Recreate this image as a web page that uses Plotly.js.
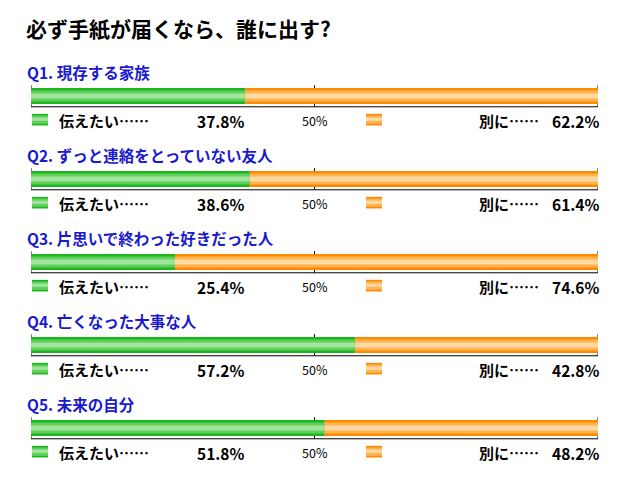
<!DOCTYPE html>
<html>
<head>
<meta charset="utf-8">
<script src="https://cdn.plot.ly/plotly-3.0.1.min.js"></script>
<style>
  html, body { margin: 0; padding: 0; background: #fff; }
  #chart { width: 626px; height: 483px; }
</style>
</head>
<body>
<div id="chart"></div>
<script>
// 質問と回答の割合
var questions = ['Q1. 現存する家族', 'Q2. ずっと連絡をとっていない友人', 'Q3. 片思いで終わった好きだった人',
                 'Q4. 亡くなった大事な人', 'Q5. 未来の自分'];
var tsutaetai = [37.8, 38.6, 25.4, 57.2, 51.8];
var betsuni = [62.2, 61.4, 74.6, 42.8, 48.2];
var idx = [0, 1, 2, 3, 4];

var W = 626, H = 483;
var FONT = '"Noto Sans CJK JP", "Noto Sans", sans-serif';
function px(x) { return x / W; }

var GREEN = ['#1fb51f', '#5fd05b', '#a2e49c'];
var ORANGE = ['#ff8a00', '#ffb450', '#ffd9a4'];

// 伝えたい = 緑, 別に = オレンジ (光沢っぽく3層で重ねる)
function layer(vals, base, color, width) {
    return {
        type: 'bar', orientation: 'h', y: idx, x: vals, base: base,
        width: width, marker: {color: color, line: {width: 0}},
        hoverinfo: 'skip', showlegend: false
    };
}
var data = [
    layer(tsutaetai, 0, GREEN[0], 0.195),
    layer(tsutaetai, 0, GREEN[1], 0.135),
    layer(tsutaetai, 0, GREEN[2], 0.06),
    layer(betsuni, tsutaetai, ORANGE[0], 0.195),
    layer(betsuni, tsutaetai, ORANGE[1], 0.135),
    layer(betsuni, tsutaetai, ORANGE[2], 0.06)
];

var shapes = [], annotations = [];
idx.forEach(function (i) {
    // 下の軸線と目盛り
    shapes.push({type: 'line', xref: 'x', yref: 'y', x0: 0, x1: 100, y0: i + 0.13, y1: i + 0.13,
                 line: {color: '#000', width: 1}, layer: 'below'});
    [0, 50, 100].forEach(function (t) {
        shapes.push({type: 'line', xref: 'x', yref: 'y', x0: t, x1: t, y0: i - 0.13, y1: i + 0.13,
                     line: {color: '#000', width: 1}, layer: 'below'});
    });
    // 凡例の四角
    [[32, 48, GREEN], [366, 382, ORANGE]].forEach(function (s) {
        var c = s[2];
        shapes.push({type: 'rect', xref: 'paper', yref: 'y', x0: px(s[0]), x1: px(s[1]),
                     y0: i + 0.215, y1: i + 0.355, fillcolor: c[0], line: {width: 0}});
        shapes.push({type: 'rect', xref: 'paper', yref: 'y', x0: px(s[0]), x1: px(s[1]),
                     y0: i + 0.235, y1: i + 0.335, fillcolor: c[1], line: {width: 0}});
        shapes.push({type: 'rect', xref: 'paper', yref: 'y', x0: px(s[0]), x1: px(s[1]),
                     y0: i + 0.26, y1: i + 0.30, fillcolor: c[2], line: {width: 0}});
    });
    var ly = i + 0.30;
    annotations.push(
        {text: '<b>' + questions[i] + '</b>', xref: 'paper', yref: 'y', x: px(25), y: i - 0.29,
         xanchor: 'left', yanchor: 'middle', showarrow: false, font: {size: 15.5, color: '#1a1acd'}},
        {text: '<b>伝えたい……</b>', xref: 'paper', yref: 'y', x: px(57), y: ly,
         xanchor: 'left', yanchor: 'middle', showarrow: false, font: {size: 15, color: '#000'}},
        {text: '<b>' + tsutaetai[i].toFixed(1) + '%</b>', xref: 'paper', yref: 'y', x: px(246), y: ly,
         xanchor: 'right', yanchor: 'middle', showarrow: false, font: {size: 15.5, color: '#000'}},
        {text: '50%', xref: 'x', yref: 'y', x: 50, y: ly,
         xanchor: 'center', yanchor: 'middle', showarrow: false, font: {size: 12.5, color: '#000'}},
        {text: '<b>別に……</b>', xref: 'paper', yref: 'y', x: px(541), y: ly,
         xanchor: 'right', yanchor: 'middle', showarrow: false, font: {size: 15, color: '#000'}},
        {text: '<b>' + betsuni[i].toFixed(1) + '%</b>', xref: 'paper', yref: 'y', x: px(601), y: ly,
         xanchor: 'right', yanchor: 'middle', showarrow: false, font: {size: 15.5, color: '#000'}}
    );
});
annotations.push({text: '<b>必ず手紙が届くなら、誰に出す?</b>', xref: 'paper', yref: 'paper',
                  x: px(24), y: 1 - 28 / H, xanchor: 'left', yanchor: 'middle', showarrow: false,
                  font: {size: 21, color: '#000'}});

var layout = {
    width: W, height: H,
    margin: {l: 0, r: 0, t: 0, b: 0},
    paper_bgcolor: '#fff', plot_bgcolor: '#fff',
    font: {family: FONT},
    barmode: 'overlay',
    xaxis: {range: [0, 100], domain: [px(31), px(598)], visible: false, fixedrange: true},
    yaxis: {range: [(H - 96) / 83, -96 / 83], domain: [0, 1], visible: false, fixedrange: true},
    shapes: shapes,
    annotations: annotations
};

Plotly.newPlot('chart', data, layout, {staticPlot: true});
</script>
</body>
</html>
